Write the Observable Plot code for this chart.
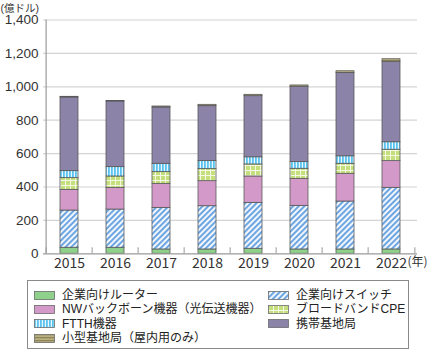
<!DOCTYPE html>
<html><head><meta charset="utf-8">
<script src="https://cdn.jsdelivr.net/npm/d3@7"></script>
<script src="https://cdn.jsdelivr.net/npm/@observablehq/plot@0.6"></script>
<style>
html,body{margin:0;padding:0;background:#fff;font-family:"Noto Sans CJK JP","Noto Sans",sans-serif;}
#wrap{width:429px;height:351px;overflow:hidden;}
#chart svg{display:block;}
#legend{position:relative;margin-left:27px;margin-top:5px;width:382px;height:69px;border:1px solid #8a8a8a;box-sizing:border-box;font-size:12px;color:#222;font-family:"Liberation Sans","Noto Sans CJK JP",sans-serif;}
.item{position:absolute;display:flex;align-items:center;white-space:nowrap;height:14px;line-height:14px;}
.item svg{margin-right:7px;flex:none;}
</style></head><body>
<svg width="0" height="0" style="position:absolute;left:0;top:0">
<defs>
<pattern id="pSwitch" patternUnits="userSpaceOnUse" width="4" height="4" patternTransform="rotate(45)">
<rect width="4" height="4" fill="#ffffff"/><rect width="2.2" height="4" fill="#6ea6e2"/></pattern>
<pattern id="pCPE" patternUnits="userSpaceOnUse" width="5" height="5">
<rect width="5" height="5" fill="#c4df7c"/><rect x="0" y="0" width="5" height="1" fill="#f4f8e4"/><rect x="0" y="0" width="1" height="5" fill="#f4f8e4"/></pattern>
<pattern id="pFTTH" patternUnits="userSpaceOnUse" width="3" height="3">
<rect width="3" height="3" fill="#e8f7fd"/><rect width="1.8" height="3" fill="#5cc3f0"/></pattern>
<pattern id="pSmall" patternUnits="userSpaceOnUse" width="3" height="3">
<rect width="3" height="3" fill="#b9b083"/><rect width="3" height="1.3" fill="#8f8557"/></pattern>
</defs></svg>
<div id="wrap"><div id="chart"></div><div id="legend"></div></div>
<script>
const years = ["2015","2016","2017","2018","2019","2020","2021","2022"];
const seriesNames = ["企業向けルーター","企業向けスイッチ","NWバックボーン機器（光伝送機器）","ブロードバンドCPE","FTTH機器","携帯基地局","小型基地局（屋内用のみ）"];
const router   = [36, 36, 26, 26, 30, 26, 26, 26];
const switches = [223, 229, 249, 259, 275, 261, 287, 369];
const backbone = [124, 130, 144, 150, 158, 162, 166, 160];
const cpe      = [70, 68, 70, 72, 72, 60, 60, 68];
const ftth     = [42, 56, 50, 48, 43, 40, 45, 45];
const mobile   = [441, 393, 337, 329, 366, 451, 498, 482];
const small    = [4, 3, 6, 8, 8, 8, 11, 15];
const yTicks = [0, 200, 400, 600, 800, 1000, 1200, 1400];
const fills = ["#8fd08a","url(#pSwitch)","#d399c9","url(#pCPE)","url(#pFTTH)","#8c83a8","url(#pSmall)"];

const seriesValues = [router, switches, backbone, cpe, ftth, mobile, small];
const rows = [];
years.forEach((y, i) => seriesNames.forEach((s, j) => rows.push({year: y, series: s, value: seriesValues[j][i]})));

const W = 429, ML = 43, MR = 12;
const band = (W - ML - MR) / years.length;

const chart = Plot.plot({
  width: W, height: 275,
  marginLeft: ML, marginRight: MR, marginTop: 19.5, marginBottom: 21.7,
  style: {fontFamily: '"Noto Sans CJK JP","Noto Sans",sans-serif', background: "#fff", overflow: "visible"},
  x: {type: "band", domain: years, paddingInner: 0.61, paddingOuter: 0.305, label: null, axis: null},
  y: {domain: [0, 1400], label: null, axis: null},
  color: {type: "ordinal", domain: seriesNames, range: fills},
  marks: [
    Plot.ruleY(yTicks.filter(d => d > 0), {stroke: "#d4d4d4", strokeWidth: 1.2}),
    Plot.barY(rows, {x: "year", y: "value", fill: "series", stroke: "#5a5a5a", strokeWidth: 0.8}),
    Plot.ruleY([0], {stroke: "#9a9a9a", strokeWidth: 1.2}),
    Plot.ruleX([years[0]], {dx: -band/2, y1: 0, y2: 1400, stroke: "#9a9a9a", strokeWidth: 1.2}),
    Plot.ruleX(years, {dx: -band/2, y1: 0, y2: 36, stroke: "#9a9a9a"}),
    Plot.ruleX([years[years.length-1]], {dx: band/2, y1: 0, y2: 36, stroke: "#9a9a9a"}),
    Plot.axisY({ticks: yTicks, tickSize: 0, tickPadding: 5, tickFormat: d3.format(","), fontSize: 13.5, color: "#333", fontFamily: '"Liberation Sans",sans-serif'}),
    Plot.axisX({tickSize: 0, tickPadding: 4, fontSize: 14, color: "#333"}),
    Plot.text(["(億ドル)"], {frameAnchor: "top-left", dx: -43, dy: -15, textAnchor: "start", fontSize: 10.5, fill: "#333", fontFamily: '"Liberation Sans","Noto Sans CJK JP",sans-serif'}),
    Plot.text(["(年)"], {frameAnchor: "bottom-right", dx: 10, dy: 12, textAnchor: "end", fontSize: 12, fill: "#333"})
  ]
});
document.getElementById("chart").appendChild(chart);

const legend = document.getElementById("legend");
const pos = [[0,0],[1,0],[0,1],[1,1],[0,2],[1,2],[0,3]];
seriesNames.forEach((name, k) => {
  const [c, r] = pos[k];
  const div = document.createElement("div");
  div.className = "item";
  div.style.left = (c === 0 ? 6 : 240) + "px";
  div.style.top = (7 + r * 14.4) + "px";
  div.innerHTML = `<svg width="21" height="9"><rect x="0.5" y="0.5" width="20" height="8" fill="${fills[k]}" stroke="#6a6a6a" stroke-width="0.8"/></svg><span>${name}</span>`;
  legend.appendChild(div);
});
</script>
</body></html>
